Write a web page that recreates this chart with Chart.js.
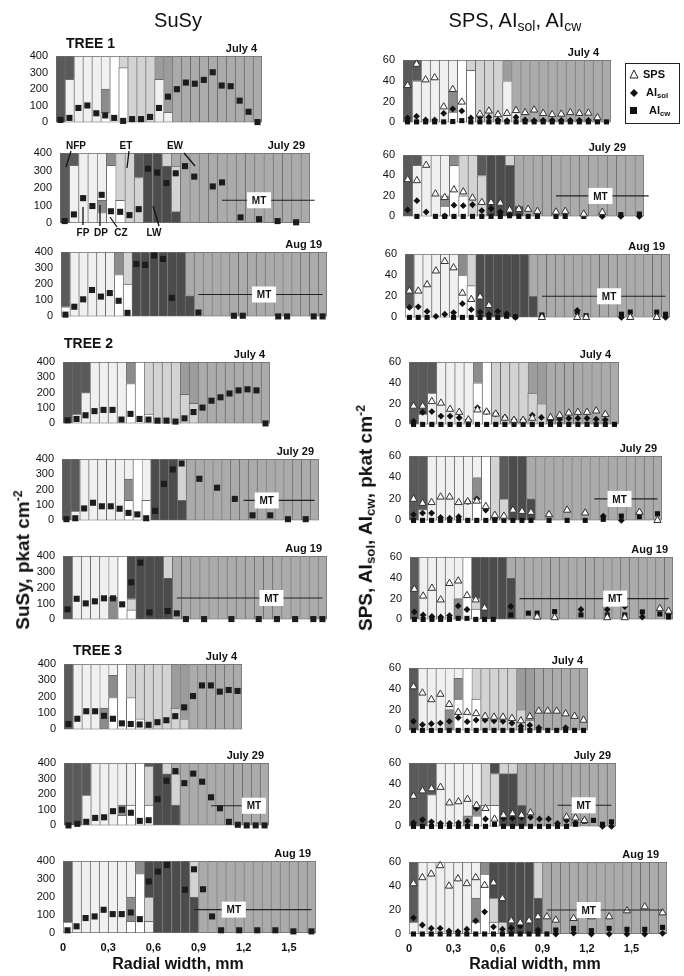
<!DOCTYPE html>
<html>
<head>
<meta charset="utf-8">
<script src="https://cdn.jsdelivr.net/npm/chart.js@4.4.1/dist/chart.umd.min.js"></script>
<style>
  body { margin: 0; width: 684px; height: 976px; position: relative; overflow: hidden; background: #fff;
         font-family: "Liberation Sans", Arial, sans-serif; color: #111; }
  canvas { position: absolute; }
  .lbl { position: absolute; white-space: nowrap; line-height: 1; }
  .sub { font-size: 70%; vertical-align: -0.25em; }
  .sup { font-size: 65%; vertical-align: 0.55em; }
  .ytitle { position: absolute; white-space: nowrap; font-weight: bold; font-size: 19px; line-height: 1;
            transform: translate(-50%, -50%) rotate(-90deg); }
</style>
</head>
<body>
<div class="lbl" style="left:178px;top:10px;font-size:20px;transform:translateX(-50%)">SuSy</div>
<div class="lbl" style="left:515px;top:10px;font-size:20px;transform:translateX(-50%)">SPS, AI<span class="sub">sol</span>, AI<span class="sub">cw</span></div>
<div class="lbl" style="left:66px;top:36px;font-size:14px;font-weight:bold">TREE 1</div>
<div class="lbl" style="left:64px;top:336px;font-size:14px;font-weight:bold">TREE 2</div>
<div class="lbl" style="left:73px;top:643px;font-size:14px;font-weight:bold">TREE 3</div>
<div class="ytitle" style="left:22px;top:560px">SuSy, pkat cm<span class="sup">-2</span></div>
<div class="ytitle" style="left:366px;top:518px">SPS, AI<span class="sub">sol</span>, AI<span class="sub">cw</span>, pkat cm<span class="sup">-2</span></div>
<div class="lbl" style="left:178px;top:956px;font-size:16px;font-weight:bold;transform:translateX(-50%)">Radial width, mm</div>
<div class="lbl" style="left:535px;top:956px;font-size:16px;font-weight:bold;transform:translateX(-50%)">Radial width, mm</div>

<div class="lbl" style="left:625px;top:63px;width:53px;height:59px;border:1px solid #222;background:#fff;font-size:11px;font-weight:bold">
  <svg style="position:absolute;left:3px;top:5px" width="10" height="10"><polygon points="5,1 9,9 1,9" fill="#fff" stroke="#222" stroke-width="1"/></svg>
  <span class="lbl" style="left:17px;top:5px">SPS</span>
  <svg style="position:absolute;left:3px;top:24px" width="10" height="10"><polygon points="5,1 9,5 5,9 1,5" fill="#111"/></svg>
  <span class="lbl" style="left:20px;top:23px">AI<span class="sub">sol</span></span>
  <svg style="position:absolute;left:3px;top:42px" width="10" height="10"><rect x="1" y="1" width="7" height="7" fill="#111"/></svg>
  <span class="lbl" style="left:23px;top:41px">AI<span class="sub">cw</span></span>
</div>

<script>
// ---- tick labels ----
const susyTicks = [0, 100, 200, 300, 400];
const actTicks = [0, 20, 40, 60];
const mmTicks = [0, 0.3, 0.6, 0.9, 1.2, 1.5];
const colMm = 0.06; // radial width of one cell column, mm

// ---- tissue zones per column: letter = zone, number = upper bound of that zone ----
// n: non-functional phloem, f: functional phloem, p: differentiating, c: cambial zone,
// e: enlarging/thickening, x: early wood (upper), w: early wood / mature, l: late wood
const t1Jul4Zones = ['n','f260n','f','f','f','c60p200f','c','c330e','e','e','e','f260x','f60x','w','w','w','w','w','w','w','w','w','w'];
const t1Jul4Susy = [15,27,87,102,55,42,27,9,20,20,33,87,155,200,240,233,256,302,222,218,131,64,2];
const t1Jul4ZonesR = ['n','f40n','f','f','f','c10p30f','c','c50e','e','e','e','f40x','f10w','w','w','w','w','w','w','w','w','w','w'];
const t1Jul4Sps = [35.5,56,41,43,15,31.7,19.6,null,8,11,7.5,8.7,11.5,9.5,12,8.7,7.5,8,9.5,8.7,9,4.6,null];
const t1Jul4Sol = [4.3,5.8,2.3,2.3,8.7,13,11,4.3,5,5,2.3,1.7,5,2.3,1.7,2,2,2,2,2,2,2.3,null];
const t1Jul4Cw = [0.5,0.5,0.5,0.5,0.5,0.8,1.7,0.5,0.5,0.5,0.5,0.5,0.5,0.5,0.5,0.5,0.5,0.5,0.5,0.5,0.5,0.5,0.5];

const t1Jul29Zones = ['n','f330n','f','f','f60p130f','c330p','c130e','e','e260n','l','l','l325e','l65e325w','w','w','w','w','w','w','w','w','w','w','w','w','w','w'];
const t1Jul29Susy = [11,49,142,97,161,67,64,45,79,310,288,228,284,325,265,null,209,232,null,32,null,22,null,11,null,4,null,2];
const t1Jul29ZonesR = ['n','f50n','f','f','c10p20f','c50p','c20e','e','e40n','l','l','l50e','l10w','w','w','w','w','w','w','w','w','w','w','w','w','w'];
const t1Jul29Sps = [36,35,50,22,18.5,26,24,18,13.7,13.7,13,6.3,7,7,5,null,4.3,5,null,2.3,null,4,null,null,null,null,null];
const t1Jul29Sol = [6.3,15.4,4.3,null,0.6,11,10.5,11.4,5.7,7.7,4.3,1.4,null,null,null,null,null,null,null,null,null,0,null,0,null,0,0];
const t1Jul29Cw = [null,0,null,0,0,0,0,0,0,0,0,0.6,0,0,0,null,0,0,null,0,null,1.7,null,1.7,null,2.3,2.3];

const t1Aug19Zones = ['c60n','f','f','f','f','f','c260p','c200e','l','l','l','l','l','l','l130w','w','w','w','w','w','w','w','w','w','w','w','w','w','w','w'];
const t1Aug19Susy = [11,60,106,164,123,145,97,22,326,320,378,357,115,null,null,24,null,null,null,4,4,null,null,null,0,0,null,null,0,0];
const t1Aug19ZonesR = ['c10n','f','f','f','f','f','c40p','c30e','l','l','l','l','l','l','l20w','w','w','w','w','w','w','w','w','w','w','w','w','w','w','w'];
const t1Aug19Sps = [25,25,31,44,53,47,23,17,19.4,11.4,null,null,null,null,null,0,null,null,null,0,0,null,null,null,null,0,null,null,0,null];
const t1Aug19Sol = [9.4,10,5.7,1,3,4.6,13,7.4,5,3,5.7,3.4,0,null,null,0.8,null,null,null,6.6,null,null,null,null,0,null,null,null,null,0];
const t1Aug19Cw = [0,0,0,null,null,0,0,0,0,0,0,1.1,0.6,null,null,2.3,null,null,null,5,1.7,null,null,null,3,5,null,null,5,3];

const t2Jul4Zones = ['n','f60n','f200n','f','f','f','f','c260p','c','c60e','e','e','e','e190x','e130x','w','w','w','w','w','w','w','w'];
const t2Jul4Susy = [20,29,53,80,88,88,25,62,29,25,18,18,12,33,74,103,148,170,195,215,222,215,0];
const t2Jul4ZonesR = ['n','f10n','f30n','f','f','f','f','c40p','c','e','e','e','e','e30x','e20x','w','w','w','w','w','w','w','w'];
const t2Jul4Sps = [17.6,17.6,22,20.5,14.6,11.7,4.4,14,12,10,6,4,4,6,null,6.7,8.8,11,11.7,11.7,13,9.7,null];
const t2Jul4Sol = [3,11.7,12.3,8,8,6.4,4.4,16,12.3,10.2,6.7,4.4,4.4,8.8,6.7,3.8,5,5.9,5.9,5.9,5,4.4,null];
const t2Jul4Cw = [0,0,0,0,0,0,0,0,0,0,0,0,0,0,0,0,0,0,0,0,0,0,0];

const t2Jul29Zones = ['n','f60n','f','f','f','f','f','c130p270f','c','c130f','l','l','l','l130e','w','w','w','w','w','w','w','w','w','w','w','w','w','w','w'];
const t2Jul29Susy = [8,14,78,115,92,92,76,49,39,14,62,238,332,371,null,271,null,213,null,140,null,33,null,33,null,8,null,8,null];
const t2Jul29ZonesR = ['n','f10n','f','f','f','f','f','c20p40f','c','e','e20n','l','l','l20w','w','w','w','w','w','w','w','w','w','w','w','w','w','w'];
const t2Jul29Sps = [19.8,16,16.7,21.8,21.8,16.7,17.5,18,13,4.8,4,9.6,8.5,7.6,null,5.4,null,9.6,null,7,null,null,null,null,null,7.6,null,0];
const t2Jul29Sol = [5.4,6.8,6.8,2.8,2,3.4,17.5,20,9.6,2,null,null,null,null,null,null,null,null,null,null,null,4,null,0,null,null,null,null];
const t2Jul29Cw = [0,0,0,0,0,0,0,0,0,0,0,0,0,0,null,0,null,0,null,0,null,1,null,4,null,3.4,null,6.2];

const t2Aug19Zones = ['n','f','f','f','f','p140f','c','c60e130l','l','l','l','l260e','w','w','w','w','w','w','w','w','w','w','w','w','w','w','w','w','w'];
const t2Aug19Susy = [63,130,101,114,133,133,95,234,358,44,null,53,38,2,null,2,null,null,2,null,null,2,null,2,null,2,null,2,2];
const t2Aug19ZonesR = ['n','f','f','f','f','p20f','c','c10e20l','l','l','l','l40w','w','w','w','w','w','w','w','w','w','w','w','w','w','w','w','w','w','w'];
const t2Aug19Sps = [29,22.5,30,18.8,34.6,37,23,18.8,11,null,null,null,null,null,2.3,null,1.7,null,null,null,null,null,1.7,null,1.7,null,null,null,10.4,8];
const t2Aug19Sol = [7.2,4.3,2.9,2.3,3.7,13,9.5,null,null,null,null,12.4,null,null,null,null,null,null,null,9.5,null,null,9.5,null,12.4,null,2.3,null,null,5.2];
const t2Aug19Cw = [0,0,0,0,0,1,1,0,0,0,null,4.3,null,6,6,null,7.5,null,null,4.3,null,null,4.3,null,4.3,null,7.2,null,5.2,2.3];

const t3Jul4Zones = ['n','f','f','f','p130f','c195p330f','c','c195e','c65e','e','e','e','e130x','e65x','w','w','w','w','w','w'];
const t3Jul4Susy = [33,65,111,111,83,65,37,33,30,28,44,56,81,135,204,269,269,231,241,235];
const t3Jul4ZonesR = ['n','f','f','f','p20f','c30p50f','c','c30e','e','e','e','e','e20x','e10x','w','w','w','w','w','w'];
const t3Jul4Sps = [42,36,29.6,34.8,25,17.4,17.4,16.2,13.6,12.8,12.8,11.6,9.3,13.3,18.6,18.6,18.6,16,13.6,9.9];
const t3Jul4Sol = [8.7,5.5,6.4,7,8.7,12.2,8.4,9.9,9.9,9.3,8.7,7,4,5,2.6,null,null,2.6,null,null];
const t3Jul4Cw = [0,0,0,0,0,0,0,0,0,0,0,0,0,0,0,0,0,0,0,0];

const t3Jul29Zones = ['n','n','f195n','f','f','f','c65p130f','c130f','c','c130e380n','l','l330e','l130e330w','w','w','w','w','w','w','w','w','w','w'];
const t3Jul29Susy = [0,10,23,48,52,91,100,81,29,33,168,286,348,271,332,280,180,110,23,4,0,0,0];
const t3Jul29ZonesR = ['n','n','f30n','f','f','f','p10f','c10p20f','c20e','c20e50l','l50e','l50e','l20w','w','w','w','w','w','w','w','w','w','w'];
const t3Jul29Sps = [28.6,33.7,35.7,37,22.3,23.4,25.7,20,17,7,10.6,12,10.6,12.9,null,null,null,9,8,5.7,null,null,null];
const t3Jul29Sol = [3.4,6.3,4.3,2.9,2.9,3.4,4.9,17,7,null,7.7,7.7,8.6,8.6,7,7,2.9,5.7,3.4,null,null,0,0];
const t3Jul29Cw = [0,0,0,0,0,0,0,0,0,2,0,0,0,0,0,0,0,0,2,4.9,5.7,2,4.3];

const t3Aug19Zones = ['c60n','f','f','f','f','f','f','c65p200f','c330p','f65e200l','l','l','l','l','l200e','w','w','w','w','w','w','w','w','w','w','w','w','w'];
const t3Aug19Susy = [15,37,83,92,129,105,105,114,77,286,341,378,null,240,354,243,92,15,null,15,null,15,null,15,null,9,null,9];
const t3Aug19ZonesR = ['f10n','f','f','f','f','f','f','c10p30f','c50p','c10e30l','e10l','l','l','l','l30e','w','w','w','w','w','w','w','w','w','w','w','w','w','w'];
const t3Aug19Sps = [42,47,50,57,40,46,42,47,40.6,42.6,29.6,11,9.4,11,14.4,14.4,11.6,null,13,null,14.4,null,14.4,null,19.4,null,22.7,null,17.7];
const t3Aug19Sol = [13.5,7.5,4.7,4.7,2.5,2,4,11,18.5,6,4,5,6.6,null,3.3,null,0,null,0.8,null,0,null,0,null,0,null,0,null,0.6];
const t3Aug19Cw = [0,0,0,0,0,0,0,0,0,0,0,0,0,0,0,0,3.3,null,4.7,null,2.8,null,4.7,null,3.9,null,3.9,null,5.5];

// ---- styles ----
const shade = { n: '#5a5a5a', l: '#4c4c4c', f: '#f0f0f0', c: '#ffffff', e: '#d3d3d3', p: '#8c8c8c', x: '#9c9c9c', w: '#ababab' };
const FONT = '"Liberation Sans", Arial, sans-serif';
Chart.defaults.font.family = FONT;

// panel placement (plot area in page pixels) + which arrays to use
const panels = [
  { x: 56, y: 56, w: 206, h: 73, zones: t1Jul4Zones, susy: t1Jul4Susy, date: 'July 4' },
  { x: 60, y: 153, w: 250, h: 70, zones: t1Jul29Zones, susy: t1Jul29Susy, date: 'July 29', mt: [17, 27, 21, 130], notes: true },
  { x: 61, y: 252, w: 266, h: 71, zones: t1Aug19Zones, susy: t1Aug19Susy, date: 'Aug 19', mt: [15, 29, 22.4, 136] },
  { x: 63, y: 362, w: 207, h: 68, zones: t2Jul4Zones, susy: t2Jul4Susy, date: 'July 4' },
  { x: 62, y: 459, w: 257, h: 68, zones: t2Jul29Zones, susy: t2Jul29Susy, date: 'July 29', mt: [20, 28, 22.6, 130] },
  { x: 63, y: 556, w: 264, h: 70, zones: t2Aug19Zones, susy: t2Aug19Susy, date: 'Aug 19', mt: [12, 28, 22.4, 135] },
  { x: 64, y: 664, w: 178, h: 72, zones: t3Jul4Zones, susy: t3Jul4Susy, date: 'July 4' },
  { x: 64, y: 763, w: 205, h: 69, zones: t3Jul29Zones, susy: t3Jul29Susy, date: 'July 29', mt: [16, 22, 20.8, 126] },
  { x: 63, y: 861, w: 253, h: 72, zones: t3Aug19Zones, susy: t3Aug19Susy, date: 'Aug 19', mt: [14, 27, 18.4, 130], mm: true },

  { x: 403, y: 60, w: 208, h: 69, zones: t1Jul4ZonesR, sps: t1Jul4Sps, sol: t1Jul4Sol, cw: t1Jul4Cw, date: 'July 4', dx: 12 },
  { x: 403, y: 155, w: 241, h: 68, zones: t1Jul29ZonesR, sps: t1Jul29Sps, sol: t1Jul29Sol, cw: t1Jul29Cw, date: 'July 29', mt: [16, 26, 20.8, 20], dx: 18 },
  { x: 405, y: 254, w: 265, h: 70, zones: t1Aug19ZonesR, sps: t1Aug19Sps, sol: t1Aug19Sol, cw: t1Aug19Cw, date: 'Aug 19', mt: [15, 29, 22.6, 20] },
  { x: 409, y: 362, w: 210, h: 69, zones: t2Jul4ZonesR, sps: t2Jul4Sps, sol: t2Jul4Sol, cw: t2Jul4Cw, date: 'July 4', dx: 8 },
  { x: 409, y: 456, w: 253, h: 71, zones: t2Jul29ZonesR, sps: t2Jul29Sps, sol: t2Jul29Sol, cw: t2Jul29Cw, date: 'July 29', mt: [20, 27, 22.8, 20] },
  { x: 410, y: 557, w: 263, h: 69, zones: t2Aug19ZonesR, sps: t2Aug19Sps, sol: t2Aug19Sol, cw: t2Aug19Cw, date: 'Aug 19', mt: [12, 29, 22.9, 20] },
  { x: 409, y: 668, w: 179, h: 69, zones: t3Jul4ZonesR, sps: t3Jul4Sps, sol: t3Jul4Sol, cw: t3Jul4Cw, date: 'July 4' },
  { x: 409, y: 763, w: 207, h: 70, zones: t3Jul29ZonesR, sps: t3Jul29Sps, sol: t3Jul29Sol, cw: t3Jul29Cw, date: 'July 29', mt: [16, 22, 18.9, 20] },
  { x: 409, y: 862, w: 258, h: 72, zones: t3Aug19ZonesR, sps: t3Aug19Sps, sol: t3Aug19Sol, cw: t3Aug19Cw, date: 'Aug 19', mt: [15, 28, 19.7, 20], mm: true, dx: 8 }
];

// labelled arrows on the first July 29 panel, offsets from the plot's top-left corner
const zoneNotes = [
  ['NFP', 16, -4, 11, -2, 6, 14],
  ['ET', 66, -4, 69, -2, 67, 15],
  ['EW', 115, -4, 124, 0, 135, 13],
  ['FP', 23, 83, 23, 54, 23, 72],
  ['DP', 41, 83, 40, 52, 40, 73],
  ['CZ', 61, 83, 50, 64, 57, 74],
  ['LW', 94, 83, 93, 53, 99, 73]
];

function parseZones(codes, ymax) {
  return codes.map(s => {
    const segs = [];
    let prev = 0;
    for (const m of s.matchAll(/([a-z])(\d*)/g)) {
      const top = m[2] ? +m[2] : ymax;
      segs.push({ z: m[1], h: top - prev });
      prev = top;
    }
    return segs;
  });
}

const decor = {
  id: 'decor',
  afterDatasetsDraw(chart, args, opts) {
    const { ctx, chartArea: a, scales } = chart;
    ctx.save();
    ctx.fillStyle = '#111';
    ctx.font = 'bold 11px ' + FONT;
    ctx.textAlign = 'right';
    ctx.textBaseline = 'alphabetic';
    ctx.fillText(opts.date, a.right - opts.dx, a.top - 4);

    if (opts.mt) {
      const [c0, c1, cb, v] = opts.mt;
      const yy = scales.yp.getPixelForValue(v);
      ctx.strokeStyle = '#222';
      ctx.lineWidth = 1.2;
      ctx.beginPath();
      ctx.moveTo(scales.x.getPixelForValue(c0), yy);
      ctx.lineTo(scales.x.getPixelForValue(c1), yy);
      ctx.stroke();
      const bx = scales.x.getPixelForValue(cb);
      ctx.fillStyle = '#fff';
      ctx.fillRect(bx - 12, yy - 8, 24, 16);
      ctx.fillStyle = '#111';
      ctx.font = 'bold 10px ' + FONT;
      ctx.textAlign = 'center';
      ctx.textBaseline = 'middle';
      ctx.fillText('MT', bx, yy + 1);
    }

    if (opts.notes) {
      ctx.font = 'bold 10px ' + FONT;
      ctx.textAlign = 'center';
      ctx.textBaseline = 'alphabetic';
      ctx.strokeStyle = '#111';
      ctx.lineWidth = 1.3;
      zoneNotes.forEach(([t, tx, ty, x1, y1, x2, y2]) => {
        ctx.fillStyle = '#111';
        ctx.fillText(t, a.left + tx, a.top + ty);
        ctx.beginPath();
        ctx.moveTo(a.left + x1, a.top + y1);
        ctx.lineTo(a.left + x2, a.top + y2);
        ctx.stroke();
      });
    }
    ctx.restore();
  }
};

function pointSet(data, style) {
  return Object.assign({ type: 'line', yAxisID: 'yp', data, showLine: false, clip: false, order: 0,
                         pointHoverRadius: 0 }, style);
}

const markers = {
  susy: { pointStyle: 'rect', pointRadius: 4.3, pointBackgroundColor: '#1c1c1c', pointBorderColor: '#1c1c1c', pointBorderWidth: 0 },
  sps: { pointStyle: 'triangle', pointRadius: 4.2, pointBackgroundColor: '#ffffff', pointBorderColor: '#333', pointBorderWidth: 1 },
  sol: { pointStyle: 'rectRot', pointRadius: 3.4, pointBackgroundColor: '#111', pointBorderColor: '#111', pointBorderWidth: 0 },
  cw: { pointStyle: 'rect', pointRadius: 3.6, pointBackgroundColor: '#111', pointBorderColor: '#111', pointBorderWidth: 0 }
};

function drawPanel(p) {
  const right = !p.susy;
  const ymax = right ? 60 : 400;
  const yTicks = right ? actTicks : susyTicks;
  const n = p.zones.length;
  const padT = 18, padB = p.notes ? 22 : 8, padR = 6, yw = 46, axisH = p.mm ? 24 : 0;
  const W = yw + p.w + padR, H = padT + p.h + padB + axisH;

  const cv = document.createElement('canvas');
  cv.width = W; cv.height = H;
  cv.style.width = W + 'px'; cv.style.height = H + 'px';
  cv.style.left = (p.x - yw) + 'px';
  cv.style.top = (p.y - padT) + 'px';
  document.body.insertBefore(cv, document.body.firstChild);

  const cols = parseZones(p.zones, ymax);
  const depth = Math.max(...cols.map(c => c.length));
  const datasets = [];

  if (right) {
    datasets.push(pointSet(p.sps, markers.sps));
    datasets.push(pointSet(p.sol, markers.sol));
    datasets.push(pointSet(p.cw, markers.cw));
  } else {
    datasets.push(pointSet(p.susy, markers.susy));
  }

  for (let k = 0; k < depth; k++) {
    datasets.push({
      type: 'bar', yAxisID: 'y', stack: 'zones', order: 10,
      data: cols.map(c => c[k] ? c[k].h : null),
      backgroundColor: cols.map(c => c[k] ? shade[c[k].z] : 'rgba(0,0,0,0)'),
      borderColor: '#6b6b6b',
      borderSkipped: false,
      borderWidth: ctx => ({ left: 1, top: 1, right: ctx.dataIndex === n - 1 ? 1 : 0, bottom: k === 0 ? 1 : 0 }),
      barPercentage: 1, categoryPercentage: 1
    });
  }

  const scales = {
    x: { type: 'category', stacked: true, display: false },
    y: {
      stacked: true, min: 0, max: ymax,
      afterBuildTicks: s => { s.ticks = yTicks.map(v => ({ value: v })); },
      afterFit: s => { s.width = yw; },
      ticks: { color: '#111', font: { size: 11 }, padding: 8, autoSkip: false },
      grid: { display: false, drawTicks: false }, border: { display: false }
    },
    yp: { display: false, min: 0, max: ymax }
  };
  if (p.mm) {
    scales.xmm = {
      type: 'linear', position: 'bottom', offset: false, min: 0, max: n * colMm,
      afterBuildTicks: s => { s.ticks = mmTicks.map(v => ({ value: v })); },
      afterFit: s => { s.height = axisH; },
      ticks: {
        color: '#111', font: { size: 11, weight: 'bold' }, padding: 8, maxRotation: 0, autoSkip: false,
        callback: v => v === 0 ? '0' : v.toFixed(1).replace('.', ',')
      },
      grid: { display: false, drawTicks: false, offset: false }, border: { display: false }
    };
  }

  new Chart(cv, {
    type: 'bar',
    data: { labels: p.zones.map((_, i) => i), datasets },
    options: {
      responsive: false,
      animation: false,
      layout: { padding: { top: padT, right: padR, bottom: padB, left: 0 } },
      scales,
      plugins: {
        legend: { display: false },
        tooltip: { enabled: false },
        decor: { date: p.date, dx: p.dx ?? 5, mt: p.mt ? [p.mt[0], p.mt[1], p.mt[2], p.mt[3]] : null, notes: !!p.notes }
      }
    },
    plugins: [decor]
  });
}

panels.forEach(drawPanel);
</script>
</body>
</html>
